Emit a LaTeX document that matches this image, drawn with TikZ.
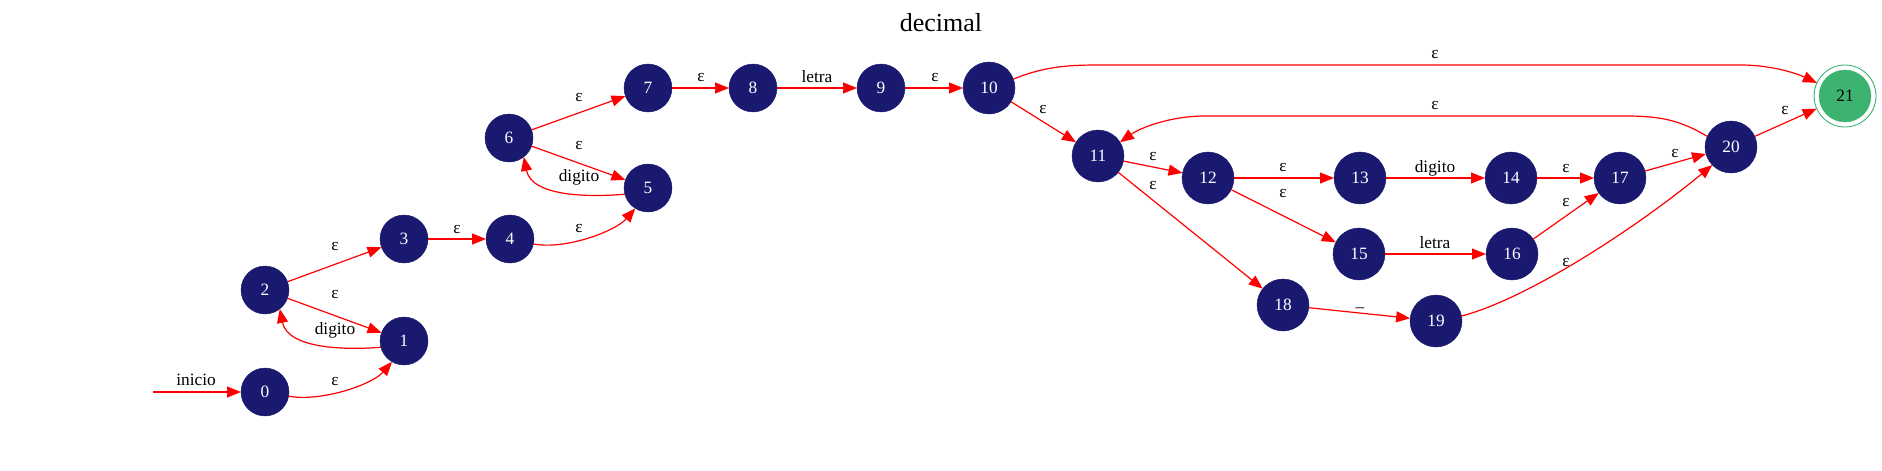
\documentclass[tikz,border=0pt]{standalone}
\usepackage{fontspec}
\setmainfont{Liberation Serif}
\usetikzlibrary{arrows.meta}
\definecolor{nblue}{RGB}{25,25,112}
\definecolor{ngreen}{RGB}{60,179,113}
\begin{document}
\begin{tikzpicture}[x=1pt,y=-1pt,
 st/.style={circle, fill=nblue, draw=nblue, line width=0.4pt, inner sep=0pt, outer sep=0pt, minimum size=48pt, text=white, font=\fontsize{17.3}{20}\selectfont},
 st2/.style={st, minimum size=52pt},
 tr/.style={draw=red, line width=1.2pt, -{Triangle[length=14pt,width=11pt]}},
 lb/.style={font=\fontsize{17.3}{20}\selectfont, inner sep=0pt, text=black}]
\useasboundingbox (0,0) rectangle (1882,471);
\node[font=\fontsize{26}{30}\selectfont, inner sep=0pt] (title) at (941,23) {decimal};
% states
\node[st] (n0) at (265,392) {0};
\node[st] (n1) at (404,341) {1};
\node[st] (n2) at (265,290) {2};
\node[st] (n3) at (404,239) {3};
\node[st] (n4) at (510,239) {4};
\node[st] (n5) at (648,188) {5};
\node[st] (n6) at (509,138) {6};
\node[st] (n7) at (648,88) {7};
\node[st] (n8) at (753,88) {8};
\node[st] (n9) at (881,88) {9};
\node[st2] (n10) at (989,88) {10};
\node[st2] (n11) at (1098,156) {11};
\node[st2] (n12) at (1208,178) {12};
\node[st2] (n13) at (1360,178) {13};
\node[st2] (n14) at (1511,178) {14};
\node[st2] (n15) at (1359,254) {15};
\node[st2] (n16) at (1512,254) {16};
\node[st2] (n17) at (1620,178) {17};
\node[st2] (n18) at (1283,305) {18};
\node[st2] (n19) at (1436,321) {19};
\node[st2] (n20) at (1731,147) {20};
\node[circle, draw=ngreen, line width=0.9pt, inner sep=0pt, outer sep=0pt, minimum size=62pt] (n21) at (1845,96) {};
\node[st2, fill=ngreen, draw=ngreen, text=black] (n21in) at (n21.center) {21};
% start
\coordinate (start) at (153,392);
\draw[tr] (start) -- (n0);
\node[lb] (linicio) at (196,380) {inicio};
% edges
\draw[tr] (n0.-10) .. controls +(32,6) and +(-20,23) .. (n1.-120);
\node[lb] (l01) at (335,382) {ε};
\draw[tr] (n2) -- (n1);
\node[lb] (l21) at (335,295) {ε};
\draw[tr] (n1.-165) .. controls +(-35,3) and +(8,40) .. (n2.-52);
\node[lb] (l12) at (335,330) {digito};
\draw[tr] (n2) -- (n3);
\node[lb] (l23) at (335,247) {ε};
\draw[tr] (n3) -- (n4);
\node[lb] (l34) at (457,230) {ε};
\draw[tr] (n4.-12) .. controls +(32,6) and +(-20,23) .. (n5.-122);
\node[lb] (l45) at (579,229) {ε};
\draw[tr] (n6) -- (n5);
\node[lb] (l65) at (579,146) {ε};
\draw[tr] (n5.-165) .. controls +(-35,3) and +(8,40) .. (n6.-52);
\node[lb] (l56) at (579,177) {digito};
\draw[tr] (n6) -- (n7);
\node[lb] (l67) at (579,98) {ε};
\draw[tr] (n7) -- (n8);
\node[lb] (l78) at (701,78) {ε};
\draw[tr] (n8) -- (n9);
\node[lb] (l89) at (817,77) {letra};
\draw[tr] (n9) -- (n10);
\node[lb] (l910) at (935,78) {ε};
\draw[tr] (n10.20) .. controls (1045,66) and (1070,65) .. (1100,65) -- (1740,65) .. controls (1775,65) and (1800,75) .. (n21.155);
\node[lb] (l1021) at (1435,55) {ε};
\draw[tr] (n10) -- (n11);
\node[lb] (l1011) at (1043,110) {ε};
\draw[tr] (n20.156) .. controls (1680,120) and (1660,116) .. (1625,116) -- (1205,116) .. controls (1170,116) and (1140,128) .. (n11.32);
\node[lb] (l2011) at (1435,106) {ε};
\draw[tr] (n11) -- (n12);
\node[lb] (l1112) at (1153,157) {ε};
\draw[tr] (n11) -- (n18);
\node[lb] (l1118) at (1153,186) {ε};
\draw[tr] (n12) -- (n13);
\node[lb] (l1213) at (1283,168) {ε};
\draw[tr] (n12) -- (n15);
\node[lb] (l1215) at (1283,194) {ε};
\draw[tr] (n13) -- (n14);
\node[lb] (l1314) at (1435,168) {digito};
\draw[tr] (n15) -- (n16);
\node[lb] (l1516) at (1435,243) {letra};
\draw[tr] (n14) -- (n17);
\node[lb] (l1417) at (1566,169) {ε};
\draw[tr] (n16) -- (n17);
\node[lb] (l1617) at (1566,203) {ε};
\draw[tr] (n17) -- (n20);
\node[lb] (l1720) at (1675,154) {ε};
\draw[tr] (n18) -- (n19);
\node[lb, anchor=base] (l1819) at (1360,306) {\_};
\draw[tr] (n19.11) .. controls (1530,298) and (1640,225) .. (n20.-136);
\node[lb] (l1920) at (1566,263) {ε};
\draw[tr] (n20) -- (n21);
\node[lb] (l2021) at (1785,111) {ε};
\end{tikzpicture}
\end{document}
